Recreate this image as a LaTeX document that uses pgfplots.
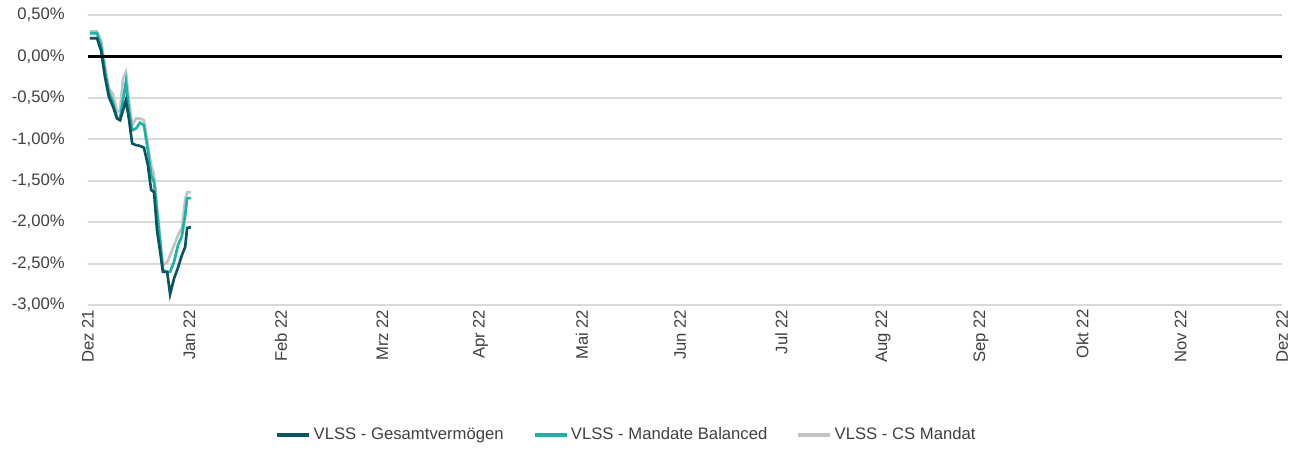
\documentclass[border=0pt]{standalone}
\usepackage{pgfplots}
\pgfplotsset{compat=1.18}
\usepackage{fontspec}
\setmainfont{Liberation Sans}
\definecolor{cdark}{HTML}{0B5560}
\definecolor{cteal}{HTML}{17B3A8}
\definecolor{cgray}{HTML}{C3C3C3}
\definecolor{cgrid}{HTML}{D9D9D9}
\definecolor{ctext}{HTML}{404040}
\begin{document}
\begin{tikzpicture}
\useasboundingbox (-66pt,-108.75pt) rectangle (909pt,228.75pt);
\begin{axis}[
  at={(0,0)}, anchor=south west,
  scale only axis,
  width=895.5pt, height=217.5pt,
  xmin=0, xmax=365, ymin=-3, ymax=0.5,
  xtick={0,31,59,90,120,151,181,212,243,273,304,334,365},
  xticklabels={Dez 21,Jan 22,Feb 22,Mrz 22,Apr 22,Mai 22,Jun 22,Jul 22,Aug 22,Sep 22,Okt 22,Nov 22,Dez 22},
  ytick={-3,-2.5,...,0.5},
  yticklabel={\pgfmathprintnumber[fixed,fixed zerofill,precision=2,use comma]{\tick}\%},
  /pgf/number format/assume math mode=true,
  axis line style={draw=none},
  major tick length=0pt,
  ymajorgrids,
  grid style={cgrid, line width=1.5pt},
  tick label style={font=\fontsize{12.5}{14}\selectfont, text=ctext},
  xticklabel style={rotate=90, anchor=east},
  yticklabel style={xshift=-14pt},
  legend style={at={(axis description cs:0.4514,-0.448)}, anchor=center, draw=none, fill=none,
    font=\fontsize{12.5}{14}\selectfont, text=ctext, legend columns=3,
    /tikz/every even column/.append style={column sep=20pt}},
  legend image code/.code={\draw[#1, line width=2.5pt] (0pt,0pt) -- (24pt,0pt);},
  clip=false,
]
\addplot[cgray, line width=2pt, forget plot] coordinates {
(0.6,0.30)(2.75,0.30)(4.0,0.19)(5.2,-0.11)(6.4,-0.39)(7.6,-0.45)(8.9,-0.67)(9.8,-0.65)(10.7,-0.27)(11.6,-0.19)(12.5,-0.53)(13.5,-0.83)(14.7,-0.75)(15.9,-0.75)(17.1,-0.77)(18.3,-1.07)(19.3,-1.31)(20.2,-1.43)(21.1,-1.80)(22.0,-2.16)(22.9,-2.52)(24.2,-2.48)(25.1,-2.40)(26.3,-2.28)(27.5,-2.16)(28.7,-2.07)(29.7,-1.73)(30.3,-1.64)(31.5,-1.64)};
\addplot[cteal, line width=2pt, forget plot] coordinates {
(0.6,0.28)(2.75,0.28)(4.0,0.13)(5.2,-0.19)(6.4,-0.43)(7.6,-0.55)(8.9,-0.75)(9.8,-0.75)(10.7,-0.53)(11.6,-0.31)(12.5,-0.65)(13.5,-0.89)(14.7,-0.87)(15.9,-0.80)(17.1,-0.83)(18.3,-1.13)(19.3,-1.43)(20.2,-1.52)(21.1,-1.88)(22.0,-2.22)(22.9,-2.58)(24.2,-2.60)(25.1,-2.60)(26.3,-2.48)(27.5,-2.28)(28.7,-2.17)(29.7,-1.92)(30.3,-1.71)(31.5,-1.71)};
\addplot[cdark, line width=2pt, forget plot] coordinates {
(0.6,0.22)(2.75,0.22)(4.0,0.07)(5.2,-0.25)(6.4,-0.49)(7.6,-0.60)(8.9,-0.75)(9.8,-0.77)(10.7,-0.65)(11.6,-0.53)(12.5,-0.75)(13.5,-1.05)(14.7,-1.07)(15.9,-1.08)(17.1,-1.10)(18.3,-1.31)(19.3,-1.61)(20.2,-1.64)(21.1,-2.10)(22.0,-2.34)(22.9,-2.60)(24.2,-2.60)(25.1,-2.87)(26.3,-2.68)(27.5,-2.55)(28.7,-2.40)(29.7,-2.30)(30.3,-2.07)(31.5,-2.06)};
\addplot[black, line width=2.25pt, forget plot] coordinates {(0,0)(365,0)};
\addlegendimage{cdark}\addlegendentry{VLSS - Gesamtvermögen}
\addlegendimage{cteal}\addlegendentry{VLSS - Mandate Balanced}
\addlegendimage{cgray}\addlegendentry{VLSS - CS Mandat}
\end{axis}
\end{tikzpicture}
\end{document}
